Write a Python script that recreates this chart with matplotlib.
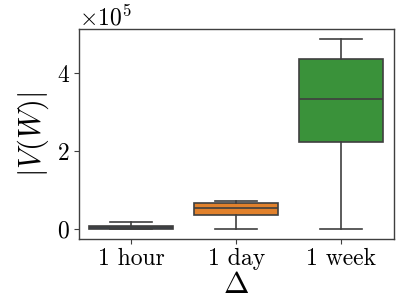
import matplotlib
matplotlib.use('Agg')
import matplotlib.pyplot as plt

plt.rcParams['font.family'] = 'serif'
plt.rcParams['font.serif'] = ['cmr10', 'DejaVu Serif']
plt.rcParams['mathtext.fontset'] = 'cm'
plt.rcParams['axes.formatter.use_mathtext'] = True

# summary stats (units of 1e5)
categories = ['1 hour', '1 day', '1 week']
whislo = [0.0, 0.0, 0.0]
q1 = [0.01, 0.35, 2.23]
med = [0.06, 0.54, 3.33]
q3 = [0.09, 0.66, 4.35]
whishi = [0.19, 0.71, 4.87]
colors = ['#34495e', '#e1812c', '#3a923a']

stats = []
for i, name in enumerate(categories):
    stats.append({'label': name,
                  'whislo': whislo[i] * 1e5,
                  'q1': q1[i] * 1e5,
                  'med': med[i] * 1e5,
                  'q3': q3[i] * 1e5,
                  'whishi': whishi[i] * 1e5,
                  'fliers': []})

fig = plt.figure(figsize=(3.99, 2.99), dpi=100)
ax = fig.add_axes([0.198, 0.2, 0.789, 0.703])

edge = '#3f3f3f'
bp = ax.bxp(stats, positions=range(len(categories)), widths=0.8,
            patch_artist=True, showfliers=False,
            boxprops=dict(edgecolor=edge, linewidth=1.2),
            medianprops=dict(color=edge, linewidth=1.2),
            whiskerprops=dict(color=edge, linewidth=1.2),
            capprops=dict(color=edge, linewidth=1.2),
            capwidths=0.4)
for patch, c in zip(bp['boxes'], colors):
    patch.set_facecolor(c)

ax.set_xlim(-0.5, 2.5)
ax.set_ylim(-0.26e5, 5.13e5)
ax.set_yticks([0, 2e5, 4e5])
ax.ticklabel_format(axis='y', style='sci', scilimits=(0, 0))
ax.yaxis.get_offset_text().set_fontsize(17)
ax.set_xticks(range(len(categories)))
ax.set_xticklabels(categories)
ax.tick_params(labelsize=17, length=3.5, color=edge, pad=3)
for s in ax.spines.values():
    s.set_color(edge)
    s.set_linewidth(1.0)

ax.set_xlabel(r'$\Delta$', fontsize=22, labelpad=1)
ax.set_ylabel(r'$|V(W)|$', fontsize=22, labelpad=4)

fig.savefig('out.png', dpi=100)
